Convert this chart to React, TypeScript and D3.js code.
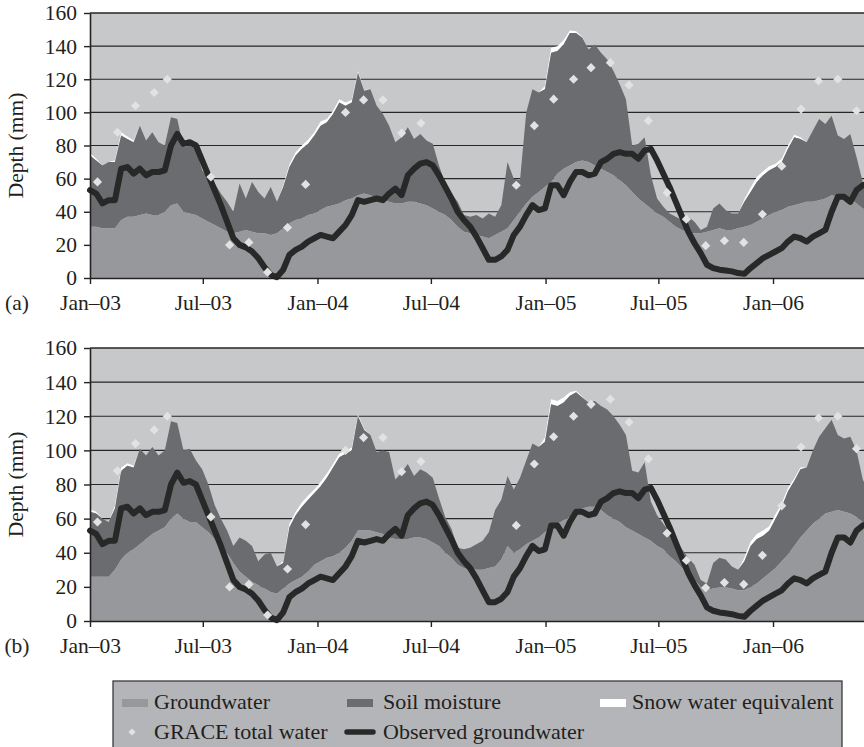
import * as d3 from 'd3'
import { useEffect, useRef } from 'react'

// 10-day samples starting 1 Jan 2003
const startDate = new Date(2003, 0, 1)
const stepDays = 10

// panel (a)
const groundwaterA = [
  31, 31, 30, 30, 30, 35, 37, 37, 38, 39,
  38, 38, 40, 44, 45, 40, 39, 38, 36, 34,
  32, 30, 28, 27, 28, 29, 28, 27, 27, 26,
  27, 30, 33, 35, 36, 38, 39, 41, 43, 44,
  45, 47, 48, 50, 51, 50, 48, 47, 46, 45,
  45, 46, 46, 45, 44, 42, 40, 38, 35, 31,
  28, 27, 26, 25, 24, 26, 28, 30, 35, 40,
  45, 49, 52, 55, 58, 63, 66, 68, 70, 71,
  70, 68, 66, 64, 62, 59, 56, 52, 48, 45,
  42, 39, 37, 34, 31, 29, 27, 27, 27, 28,
  29, 30, 29, 29, 30, 31, 32, 34, 36, 38,
  40, 41, 43, 44, 45, 46, 46, 47, 48, 50,
  49, 48, 48, 45, 42, 40,
]
const soilA = [
  43, 40, 38, 40, 40, 51, 47, 45, 54, 44,
  50, 44, 40, 53, 51, 39, 41, 40, 29, 26,
  25, 21, 18, 13, 29, 19, 30, 25, 21, 29,
  19, 25, 34, 39, 42, 43, 47, 51, 51, 55,
  61, 57, 58, 74, 62, 64, 56, 52, 46, 37,
  40, 45, 38, 42, 39, 39, 28, 19, 16, 15,
  10, 10, 12, 11, 15, 11, 16, 40, 25, 19,
  55, 65, 60, 59, 78, 74, 75, 80, 78, 74,
  68, 73, 70, 68, 63, 58, 52, 28, 33, 40,
  20, 9, 6, 5, 6, 6, 10, 7, 2, 3,
  13, 15, 12, 10, 9, 15, 20, 24, 26, 27,
  27, 29, 35, 41, 39, 36, 43, 49, 45, 48,
  37, 36, 39, 28, 16, 15,
]
const snowA = [
  1.5, 1, 0, 0, 1, 2, 1.5, 1, 0, 0,
  0, 0, 0, 0, 0, 0, 0, 0, 0, 0,
  0, 0, 0, 0, 0, 0, 0, 0, 0, 0,
  0, 1, 1.5, 2, 2, 2.5, 2, 2.5, 2, 2,
  2, 2, 1.5, 1, 0.5, 0, 0, 0, 0, 0,
  0, 0, 0, 0, 0, 0, 0, 0, 0, 0,
  0, 0, 0, 0, 0, 0, 0, 0, 0, 0,
  0, 0, 0, 2, 3, 3, 2.5, 1.5, 1, 0.5,
  0, 0, 0, 0, 0, 0, 0, 0, 0, 0,
  0, 0, 0, 0, 0, 0, 0, 0, 0, 0,
  0, 0, 0, 0, 0, 1.5, 2.5, 3, 2.5, 2.5,
  2, 2, 2, 1.5, 1, 0, 0, 0, 0, 0,
  0, 0, 0, 0, 0, 0,
]

// panel (b)
const groundwaterB = [
  26, 26, 26, 26, 30, 36, 40, 42, 45, 48,
  51, 53, 55, 60, 63, 60, 58, 58, 55, 52,
  48, 44, 40, 34, 29, 26, 23, 21, 19, 17,
  16, 19, 22, 24, 26, 29, 33, 35, 37, 38,
  40, 43, 47, 53, 53, 53, 52, 51, 49, 48,
  48, 48, 49, 49, 48, 46, 44, 40, 37, 33,
  31, 31, 30, 30, 31, 32, 36, 44, 40, 42,
  45, 47, 49, 52, 55, 57, 59, 61, 63, 66,
  67, 67, 65, 62, 60, 58, 55, 53, 51, 49,
  47, 44, 42, 38, 35, 31, 28, 24, 20, 18,
  19, 20, 20, 19, 18, 18, 20, 22, 25, 28,
  31, 35, 39, 44, 49, 53, 57, 60, 63, 64,
  65, 64, 63, 61, 58, 56,
]
const soilB = [
  38, 37, 34, 32, 36, 52, 51, 48, 56, 49,
  51, 44, 45, 57, 53, 40, 43, 36, 34, 28,
  20, 16, 13, 10, 20, 21, 21, 14, 20, 23,
  16, 15, 33, 38, 41, 42, 42, 44, 47, 52,
  56, 55, 53, 67, 59, 56, 47, 49, 50, 35,
  39, 44, 36, 40, 39, 38, 28, 21, 17, 10,
  11, 12, 15, 17, 21, 33, 35, 41, 37, 42,
  49, 57, 53, 53, 72, 69, 69, 71, 71, 65,
  61, 62, 61, 62, 60, 57, 54, 35, 36, 44,
  23, 18, 15, 14, 12, 11, 9, 9, 4, 4,
  15, 17, 16, 13, 12, 17, 24, 26, 25, 25,
  29, 32, 37, 38, 40, 37, 43, 48, 50, 54,
  44, 43, 45, 39, 25, 19,
]
const snowB = [
  1.5, 1, 0, 0, 1.5, 2, 1.5, 1, 0, 0,
  0, 0, 0, 0, 0, 0, 0, 0, 0, 0,
  0, 0, 0, 0, 0, 0, 0, 0, 0, 0,
  0, 1, 2, 2, 2.5, 2.5, 2, 2.5, 2.5, 2,
  2, 2, 1.5, 1, 0.5, 0, 0, 0, 0, 0,
  0, 0, 0, 0, 0, 0, 0, 0, 0, 0,
  0, 0, 0, 0, 0, 0, 0, 0, 0, 0,
  0, 0, 0, 2.5, 3, 3, 3, 2, 1, 0.5,
  0, 0, 0, 0, 0, 0, 0, 0, 0, 0,
  0, 0, 0, 0, 0, 0, 0, 0, 0, 0,
  0, 0, 0, 0, 0, 2, 2.5, 3, 3, 2.5,
  2.5, 2, 2, 1.5, 1, 0, 0, 0, 0, 0,
  0, 0, 0, 0, 0, 0,
]

// shared by both panels
const observedGw = [
  53, 51, 45, 47, 47, 66, 67, 63, 66, 62,
  64, 64, 65, 80, 87, 81, 82, 80, 71, 62,
  53, 44, 34, 24, 20, 18.5, 16, 12, 6.5, 2,
  0.5, 5, 14, 17, 19, 22, 24, 26, 25, 24,
  28, 32, 38, 47, 46, 47, 48, 47, 51, 54,
  50, 62, 66, 69, 70, 68, 62, 55, 48, 40,
  35, 31, 25, 18, 11, 11, 13, 17, 26, 31,
  38, 44, 41, 42, 56, 56, 50, 58, 64, 64,
  62, 63, 70, 72, 75, 76, 75, 75, 72, 77,
  78, 71, 63, 55, 46, 37, 28, 21, 15, 8,
  6, 5, 4.5, 4, 3, 2.5, 6, 9, 12, 14,
  16, 18, 22, 25, 24, 22, 25, 27, 29, 40,
  49, 49, 46, 53, 56, 57,
]

const graceDates = [
  '2003-01-13', '2003-02-14', '2003-03-15', '2003-04-14', '2003-05-05',
  '2003-07-14', '2003-08-13', '2003-09-13', '2003-10-13', '2003-11-14', '2003-12-13',
  '2004-02-15', '2004-03-15', '2004-04-15', '2004-05-15', '2004-06-15',
  '2004-11-15', '2004-12-14', '2005-01-14', '2005-02-15', '2005-03-15', '2005-04-15',
  '2005-05-15', '2005-06-15', '2005-07-15', '2005-08-15', '2005-09-15', '2005-10-15',
  '2005-11-15', '2005-12-15', '2006-01-15', '2006-02-15', '2006-03-15', '2006-04-15',
  '2006-05-15',
]
const graceValues = [
  58, 88, 104, 112, 120,
  61, 20, 21.5, 3.5, 30.5, 56.5,
  100, 107.5, 107.5, 87.5, 93.5,
  56, 92, 108, 120, 127, 130,
  116.5, 95, 51.5, 35.5, 19.5, 22.5,
  21.5, 38.5, 67.5, 102, 119, 120,
  101,
]

const yTicks = [0, 20, 40, 60, 80, 100, 120, 140, 160]
const xTickDates = ['2003-01-01', '2003-07-01', '2004-01-01', '2004-07-01', '2005-01-01', '2005-07-01', '2006-01-01']
const xTickLabels = ['Jan–03', 'Jul–03', 'Jan–04', 'Jul–04', 'Jan–05', 'Jul–05', 'Jan–06']

const FONT = "'Liberation Serif', 'Times New Roman', serif"
const INK = '#231f20'
const C_BG = '#c7c8ca'
const C_GW = '#97989b'
const C_SOIL = '#6b6c6f'
const C_SNOW = '#ffffff'
const C_OBS = '#282828'
const C_GRACE = '#e2e2e2'

const App = () => {
  const svgRef = useRef<SVGSVGElement>(null)

  useEffect(() => {
    const svg = d3.select(svgRef.current)
    svg.selectAll('*').remove()

    const parse = d3.timeParse('%Y-%m-%d')
    const dates = groundwaterA.map((_, i) => d3.timeDay.offset(startDate, i * stepDays))
    const x = d3
      .scaleTime()
      .domain([startDate, new Date(2006, 4, 27)])
      .range([90, 864])

    const panels = [
      { tag: '(a)', top: 13, bottom: 278, gw: groundwaterA, soil: soilA, snow: snowA },
      { tag: '(b)', top: 348, bottom: 621, gw: groundwaterB, soil: soilB, snow: snowB },
    ]

    panels.forEach((p) => {
      const y = d3.scaleLinear().domain([0, 160]).range([p.bottom, p.top])
      const g = svg.append('g')

      g.append('rect')
        .attr('x', 90)
        .attr('y', p.top)
        .attr('width', 864 - 90)
        .attr('height', p.bottom - p.top)
        .attr('fill', C_BG)

      // gridlines
      g.append('g')
        .selectAll('line')
        .data(yTicks.slice(1))
        .join('line')
        .attr('x1', 90)
        .attr('x2', 864)
        .attr('y1', (d) => y(d))
        .attr('y2', (d) => y(d))
        .attr('stroke', '#262626')
        .attr('stroke-width', (d) => (d === 160 ? 1.6 : 1.2))

      // stacked areas
      const rows = dates.map((d, i) => ({ date: d, groundwater: p.gw[i], soil: p.soil[i], snow: p.snow[i] }))
      const series = d3.stack().keys(['groundwater', 'soil', 'snow'])(rows as any)
      const colors = [C_GW, C_SOIL, C_SNOW]
      const area = d3
        .area<any>()
        .x((d) => x(d.data.date))
        .y0((d) => y(d[0]))
        .y1((d) => y(d[1]))
      g.append('g')
        .selectAll('path')
        .data(series.slice().reverse())
        .join('path')
        .attr('d', (s) => area(s))
        .attr('fill', (s) => colors[s.index])

      // observed groundwater
      const line = d3
        .line<number>()
        .x((_, i) => x(dates[i]))
        .y((d) => y(d))
      g.append('path')
        .attr('d', line(observedGw))
        .attr('fill', 'none')
        .attr('stroke', C_OBS)
        .attr('stroke-width', 6)
        .attr('stroke-linejoin', 'round')
        .attr('stroke-linecap', 'round')

      // GRACE diamonds
      const diamond = d3.symbol(d3.symbolSquare, 42)()
      g.append('g')
        .selectAll('path')
        .data(graceValues)
        .join('path')
        .attr('d', diamond)
        .attr('transform', (d, i) => `translate(${x(parse(graceDates[i]))},${y(d)}) rotate(45)`)
        .attr('fill', C_GRACE)

      // axes
      const yAxisG = g.append('g').attr('transform', 'translate(90,0)')
      d3.axisLeft(y).tickValues(yTicks).tickSizeInner(6).tickSizeOuter(0).tickPadding(7)(yAxisG as any)
      yAxisG.attr('color', '#222').attr('font-family', FONT).attr('font-size', 21.5)
      yAxisG.select('.domain').attr('stroke-width', 1.6)
      yAxisG.selectAll('.tick line').attr('stroke-width', 1.4)
      yAxisG.selectAll('text').attr('fill', INK)

      const xAxisG = g.append('g').attr('transform', `translate(0,${p.bottom})`)
      d3.axisBottom(x)
        .tickValues(xTickDates.map((d) => parse(d)) as Date[])
        .tickFormat((_, i) => xTickLabels[i])
        .tickSizeInner(6)
        .tickSizeOuter(0)(xAxisG as any)
      xAxisG.attr('color', '#222').attr('font-family', FONT).attr('font-size', 21.5)
      xAxisG.select('.domain').attr('stroke-width', 1.6)
      xAxisG.selectAll('.tick line').attr('stroke-width', 1.4)
      xAxisG.selectAll('text').attr('fill', INK).attr('y', 32).attr('dy', 0)

      svg.append('text')
        .attr('x', 17)
        .attr('y', p.bottom + 32)
        .attr('text-anchor', 'middle')
        .attr('font-family', FONT)
        .attr('font-size', 21.5)
        .attr('fill', INK)
        .text(p.tag)

      svg.append('text')
        .attr('transform', `translate(23,${(p.top + p.bottom) / 2}) rotate(-90)`)
        .attr('text-anchor', 'middle')
        .attr('font-family', FONT)
        .attr('font-size', 21.5)
        .attr('fill', INK)
        .text('Depth (mm)')
    })

    // legend
    const lg = svg.append('g').attr('font-family', FONT).attr('font-size', 22).attr('fill', INK)
    lg.append('rect')
      .attr('x', 113)
      .attr('y', 681)
      .attr('width', 842 - 113)
      .attr('height', 90)
      .attr('fill', '#b4b5b8')
      .attr('stroke', '#3a3a3a')
      .attr('stroke-width', 1.3)

    const swatches = [
      { x: 122, label: 'Groundwater', color: C_GW, tx: 154 },
      { x: 347, label: 'Soil moisture', color: C_SOIL, tx: 383 },
      { x: 600, label: 'Snow water equivalent', color: C_SNOW, tx: 632 },
    ]
    swatches.forEach((s) => {
      lg.append('rect').attr('x', s.x).attr('y', 699).attr('width', 26).attr('height', 8).attr('fill', s.color)
      lg.append('text').attr('x', s.tx).attr('y', 709).text(s.label)
    })
    lg.append('path')
      .attr('d', d3.symbol(d3.symbolSquare, 26)())
      .attr('transform', 'translate(132,732) rotate(45)')
      .attr('fill', C_GRACE)
    lg.append('text').attr('x', 154).attr('y', 739).text('GRACE total water')
    lg.append('line')
      .attr('x1', 347)
      .attr('x2', 373)
      .attr('y1', 732)
      .attr('y2', 732)
      .attr('stroke', C_OBS)
      .attr('stroke-width', 5.5)
      .attr('stroke-linecap', 'round')
    lg.append('text').attr('x', 383).attr('y', 739).text('Observed groundwater')
  }, [])

  return (
    <svg
      ref={svgRef}
      width={864}
      height={747}
      style={{ position: 'fixed', left: 0, top: 0, background: '#fff', display: 'block' }}
    ></svg>
  )
}

export default App
